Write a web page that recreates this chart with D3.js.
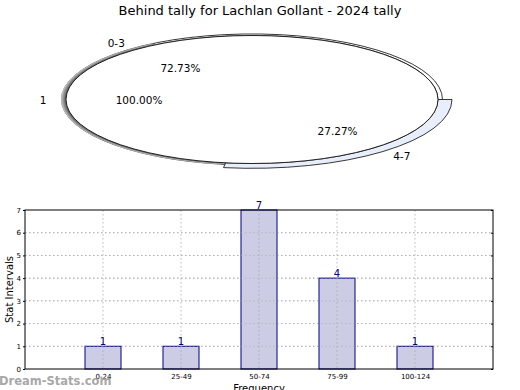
<!DOCTYPE html>
<html><head><meta charset="utf-8">
<script src="https://cdn.jsdelivr.net/npm/d3@7/dist/d3.min.js"></script>
<style>body{margin:0;background:#fff}svg{display:block;font-family:"DejaVu Sans",sans-serif}</style>
</head><body><svg id="c" width="520" height="390"></svg>
<script>
const title = "Behind tally for Lachlan Gollant - 2024 tally";
const innerLabels = ["1"];
const innerValues = [11];
const outerLabels = ["4-7", "0-3"];
const outerValues = [3, 8];
const outerPct = ["27.27%", "72.73%"];
const innerPct = ["100.00%"];
const barCats = ["0-24", "25-49", "50-74", "75-99", "100-124"];
const barVals = [1, 1, 7, 4, 1];
const yTicks = [0, 1, 2, 3, 4, 5, 6, 7];

const svg = d3.select("#c");
svg.append("text").attr("x", 260).attr("y", 15).attr("text-anchor", "middle")
  .attr("font-size", 13).text(title);

// ---- Pie (elliptical perspective) ----
const cx = 252, cy = 99.5, R = 186, sy = 64 / 186;
const pie = d3.pie().sort(null).startAngle(Math.PI / 2).endAngle(Math.PI / 2 + 2 * Math.PI);
const inner = pie(innerValues), outer = pie(outerValues);
const defs = svg.append("defs");
const grad = defs.append("radialGradient").attr("id", "sh").attr("gradientUnits", "userSpaceOnUse")
  .attr("cx", 0).attr("cy", 0).attr("r", R + 5);
grad.append("stop").attr("offset", R / (R + 5)).attr("stop-color", "#555");
grad.append("stop").attr("offset", 1).attr("stop-color", "#ccc");
const g = svg.append("g").attr("transform", `translate(${cx},${cy}) scale(1,${sy})`);
const ringArcs = [d3.arc().innerRadius(R).outerRadius(R + 14), d3.arc().innerRadius(R).outerRadius(R + 4.5)];
const fills = ["#e8eefb", "#ffffff"];
outer.forEach((d, i) => {
  g.append("path").attr("d", ringArcs[i](d)).attr("fill", fills[i])
    .attr("stroke", "#222").attr("stroke-width", 0.9).attr("vector-effect", "non-scaling-stroke");
});
// 3D side shading on the lower-left part of the thin ring
g.append("path")
  .attr("d", d3.arc().innerRadius(R).outerRadius(R + 5)({startAngle: outer[1].startAngle + 0.02, endAngle: outer[1].startAngle + 2.45}))
  .attr("fill", "url(#sh)");
inner.forEach(d => {
  g.append("path").attr("d", d3.arc().innerRadius(0).outerRadius(R)(d)).attr("fill", "#fff")
    .attr("stroke", "#222").attr("stroke-width", 1).attr("vector-effect", "non-scaling-stroke");
});
function lab(d, r, dx) {
  const a = (d.startAngle + d.endAngle) / 2;
  return [cx + dx + r * Math.sin(a), cy - r * Math.cos(a) * sy];
}
const pfs = 10.5;
outer.forEach((d, i) => {
  let p = lab(d, 120, 7);
  svg.append("text").attr("x", p[0]).attr("y", p[1] + 4).attr("text-anchor", "middle").attr("font-size", pfs).text(outerPct[i]);
  p = lab(d, 218, 7);
  svg.append("text").attr("x", p[0]).attr("y", p[1] + 4).attr("text-anchor", "middle").attr("font-size", pfs).text(outerLabels[i]);
});
inner.forEach((d, i) => {
  let p = lab(d, 113, 0);
  svg.append("text").attr("x", p[0]).attr("y", p[1] + 4).attr("text-anchor", "middle").attr("font-size", pfs).text(innerPct[i]);
  p = lab(d, 209, 0);
  svg.append("text").attr("x", p[0]).attr("y", p[1] + 4).attr("text-anchor", "middle").attr("font-size", pfs).text(innerLabels[i]);
});

// ---- Bar chart ----
const L = 25, Rt = 493, T = 210, B = 369;
const x = d3.scaleLinear().domain([0, barCats.length + 1]).range([L, Rt]);
const y = d3.scaleLinear().domain([0, 7]).range([B, T]);
const bg = svg.append("g");
bg.selectAll(".hg").data(yTicks.slice(1, -1)).join("line")
  .attr("x1", L).attr("x2", Rt).attr("y1", d => y(d)).attr("y2", d => y(d))
  .attr("stroke", "#bbb").attr("stroke-dasharray", "1.5,2.5");
bg.selectAll(".vg").data(barCats).join("line")
  .attr("x1", (d, i) => x(i + 1)).attr("x2", (d, i) => x(i + 1)).attr("y1", T).attr("y2", B)
  .attr("stroke", "#bbb").attr("stroke-dasharray", "1.5,2.5");
const bw = 36;
bg.selectAll(".bar").data(barVals).join("rect")
  .attr("x", (d, i) => x(i + 1) - bw / 2).attr("width", bw)
  .attr("y", d => y(d)).attr("height", d => B - y(d))
  .attr("fill", "#cccce5").attr("stroke", "#000080").attr("stroke-width", 1);
bg.selectAll(".vg2").data(barCats).join("line")
  .attr("x1", (d, i) => x(i + 1)).attr("x2", (d, i) => x(i + 1))
  .attr("y1", (d, i) => y(barVals[i])).attr("y2", B)
  .attr("stroke", "#aaa").attr("stroke-dasharray", "1.5,2.5");
bg.selectAll(".hg2").data(yTicks.slice(1, -1)).join("line")
  .attr("x1", L).attr("x2", Rt).attr("y1", d => y(d)).attr("y2", d => y(d))
  .attr("stroke", "#aaa").attr("stroke-dasharray", "1.5,2.5").attr("opacity", 0.6);
bg.selectAll(".vl").data(barVals).join("text")
  .attr("x", (d, i) => x(i + 1)).attr("y", d => y(d) - 1.5).attr("text-anchor", "middle")
  .attr("font-size", 10).attr("fill", "#000080").text(d => d);
const yAx = svg.append("g").attr("transform", `translate(${L},0)`)
  .call(d3.axisLeft(y).tickValues(yTicks).tickFormat(d3.format("d")).tickSize(2).tickPadding(2));
yAx.select(".domain").remove();
yAx.selectAll("text").attr("font-size", 7).attr("font-family", "DejaVu Sans");
const yAxR = svg.append("g").attr("transform", `translate(${Rt},0)`)
  .call(d3.axisLeft(y).tickValues(yTicks).tickSize(2).tickFormat(""));
yAxR.select(".domain").remove();
const xAx = svg.append("g").attr("transform", `translate(0,${B})`)
  .call(d3.axisBottom(x).tickValues(barCats.map((d, i) => i + 1)).tickFormat((d) => barCats[d - 1]).tickSize(0).tickPadding(5));
xAx.select(".domain").remove();
xAx.selectAll("text").attr("font-size", 7).attr("font-family", "DejaVu Sans");
svg.append("rect").attr("x", L).attr("y", T).attr("width", Rt - L).attr("height", B - T)
  .attr("fill", "none").attr("stroke", "#000").attr("stroke-width", 1);
svg.append("text").attr("transform", `translate(12.5,${(T + B) / 2}) rotate(-90)`)
  .attr("text-anchor", "middle").attr("font-size", 10).text("Stat Intervals");
svg.append("text").attr("x", (L + Rt) / 2).attr("y", 392).attr("text-anchor", "middle")
  .attr("font-size", 10).text("Frequency");
svg.append("text").attr("x", -1).attr("y", 385).attr("font-size", 11.5).attr("font-weight", "bold")
  .attr("fill", "#999").attr("opacity", 0.85).text("Dream-Stats.com");
</script></body></html>
